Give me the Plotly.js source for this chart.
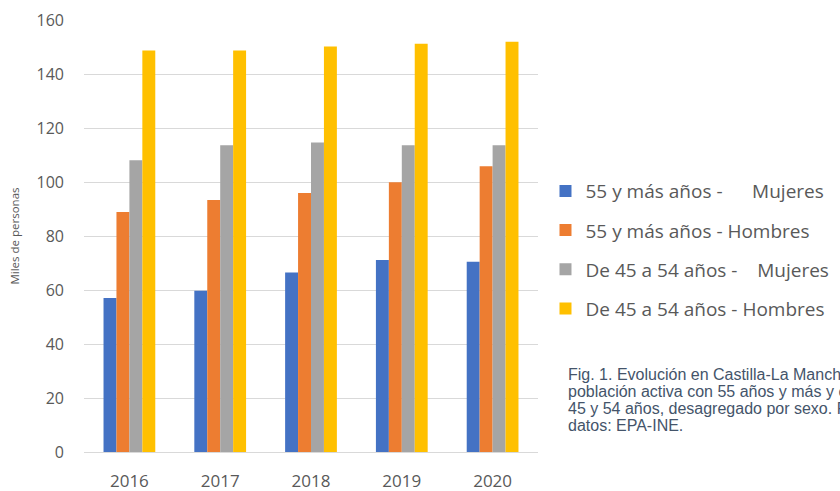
<!DOCTYPE html>
<html>
<head>
<meta charset="utf-8">
<script src="https://cdn.plot.ly/plotly-3.0.1.min.js"></script>
<style>html,body{margin:0;padding:0;background:#fff;}#chart{width:840px;height:491px;}</style>
</head>
<body>
<div id="chart"></div>
<script>
const years = ['2016', '2017', '2018', '2019', '2020'];
const seriesNames = [
  '55 y más años -\u00a0\u00a0\u00a0\u00a0\u00a0\u00a0Mujeres',
  '55 y más años - Hombres',
  'De 45 a 54 años -\u00a0\u00a0\u00a0\u00a0Mujeres',
  'De 45 a 54 años - Hombres'
];
const mujeres55 = [57.0, 59.7, 66.5, 71.1, 70.5];
const hombres55 = [88.9, 93.3, 95.9, 99.9, 105.8];
const mujeres45 = [108.1, 113.6, 114.6, 113.6, 113.6];
const hombres45 = [148.7, 148.7, 150.2, 151.2, 151.9];
const colors = ['#4472C4', '#ED7D31', '#A5A5A5', '#FFC000'];
const yTicks = [0, 20, 40, 60, 80, 100, 120, 140, 160];
const captionLines = [
  'Fig. 1. Evolución en Castilla-La Mancha de la',
  'población activa con 55 años y más y entre',
  '45 y 54 años, desagregado por sexo. Fuente de',
  'datos: EPA-INE.'
];

const values = [mujeres55, hombres55, mujeres45, hombres45];
const traces = values.map((v, i) => ({
  type: 'bar',
  x: years,
  y: v,
  name: seriesNames[i],
  legendgroup: 'g' + i,
  marker: {color: colors[i]},
  hoverinfo: 'x+y+name'
}));

const plotTop = 20, plotBottom = 452;
const captionCenters = [374, 391, 408, 425];
const annotations = captionLines.map((t, i) => ({
  xref: 'paper', yref: 'paper',
  x: 1.062, y: (plotBottom - captionCenters[i]) / (plotBottom - plotTop),
  xanchor: 'left', yanchor: 'middle',
  align: 'left',
  showarrow: false,
  text: t,
  font: {family: '"Liberation Sans", Arial, sans-serif', size: 16, color: '#44546A'}
}));

const layout = {
  width: 840,
  height: 491,
  margin: {l: 84, r: 302, t: plotTop, b: 491 - plotBottom, autoexpand: false},
  paper_bgcolor: '#ffffff',
  plot_bgcolor: '#ffffff',
  barmode: 'group',
  bargap: 0.43,
  bargroupgap: 0,
  font: {family: '"Open Sans", Lato, sans-serif', color: '#595959'},
  xaxis: {
    type: 'category',
    tickfont: {size: 17, color: '#595959'},
    showgrid: false,
    showline: true,
    linecolor: '#d9d9d9',
    linewidth: 1,
    ticks: '',
    ticklabelstandoff: 14
  },
  yaxis: {
    range: [0, 160],
    tickvals: yTicks,
    ticktext: yTicks.map(String),
    tickfont: {size: 16, color: '#595959'},
    showgrid: true,
    gridcolor: '#d9d9d9',
    gridwidth: 1,
    zeroline: false,
    ticks: '',
    ticklabelstandoff: 19,
    title: {text: 'Miles de personas', font: {size: 11.5, color: '#595959'}, standoff: 14}
  },
  showlegend: true,
  legend: {
    x: 1.0165, xanchor: 'left',
    y: 0.648, yanchor: 'top',
    font: {size: 19, color: '#595959'},
    traceorder: 'grouped',
    tracegroupgap: 11.5,
    itemwidth: 30,
    bgcolor: 'rgba(0,0,0,0)'
  },
  annotations: annotations
};

Plotly.newPlot('chart', traces, layout, {displayModeBar: false, staticPlot: true});
</script>
</body>
</html>
